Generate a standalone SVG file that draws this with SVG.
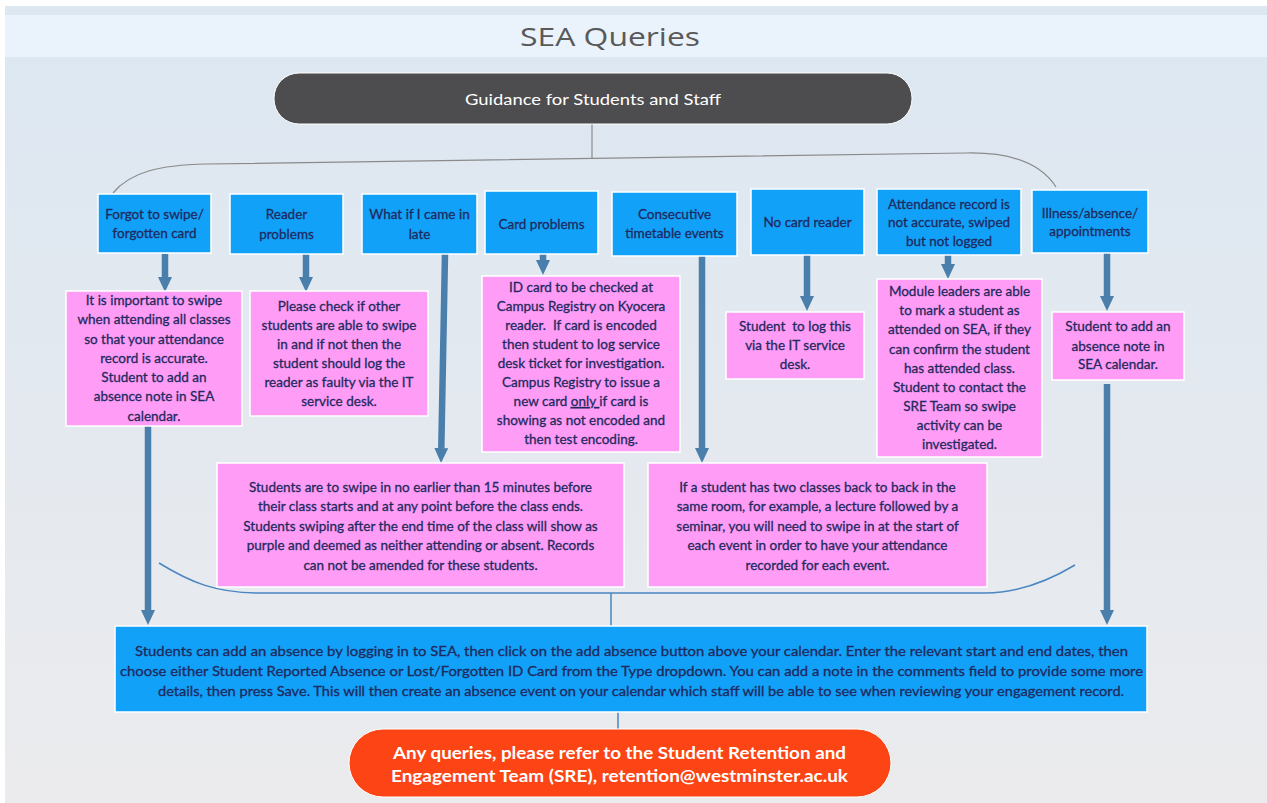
<svg xmlns="http://www.w3.org/2000/svg" width="1267" height="803" viewBox="0 0 1267 803">
<defs>
<linearGradient id="bg" x1="0" y1="0" x2="0" y2="1">
<stop offset="0" stop-color="#dce7f2"/>
<stop offset="1" stop-color="#ebebed"/>
</linearGradient>
<marker id="ah" markerUnits="userSpaceOnUse" markerWidth="16" markerHeight="14" refX="0" refY="7" orient="auto">
<path d="M0,0 L15,7 L0,14 z" fill="#4a7eab"/>
</marker>
<style>
.cat rect{fill:#11a1f9;stroke:#ffffff;stroke-width:1.5}
.pink rect{fill:#fe9cf6;stroke:#ffffff;stroke-width:1.5}
.t{font-family:Lato,"Liberation Sans",sans-serif;font-size:13.5px;fill:#1f2a5e;stroke:#1f2a5e;stroke-width:0.3px;text-anchor:middle}
.arr{stroke:#4a7eab;stroke-width:6.5;fill:none;marker-end:url(#ah)}
.thin{stroke:#4a86c0;stroke-width:1.5;fill:none}
</style>
</defs>
<rect x="0" y="0" width="1267" height="803" fill="#ffffff"/>
<rect x="5" y="6" width="1262" height="797" fill="url(#bg)"/>
<rect x="5" y="15" width="1262" height="42" fill="#eaf3fc"/>
<text x="610" y="46" font-family="'Open Sans',Lato,sans-serif" font-size="26" fill="#595959" text-anchor="middle" textLength="180" lengthAdjust="spacingAndGlyphs">SEA Queries</text>

<g id="connectors">
<path d="M592,124 L592,158" stroke="#8a8a8a" stroke-width="1.2" fill="none"/>
<path d="M113,193 C130,172 160,165 206,164 L966,153 C1010,152 1040,162 1056,187" stroke="#8a8a8a" stroke-width="1.2" fill="none"/>
<path class="arr" d="M165,254 L165,277"/>
<path class="arr" d="M306,254 L306,277"/>
<path class="arr" d="M445,254 L441.3,448"/>
<path class="arr" d="M543,254 L543,260"/>
<path class="arr" d="M702,256 L702,448"/>
<path class="arr" d="M807,255 L807,296"/>
<path class="arr" d="M948,255 L948,264"/>
<path class="arr" d="M1107,253 L1107,296"/>
<path class="arr" d="M148,426 L148,610"/>
<path class="arr" d="M1107,384 L1107,610"/>
<path class="thin" d="M159,563 C190,582 215,593 260,593 L985,593 C1020,593 1050,580 1075,565"/>
<path class="thin" d="M611,593 L611,626"/>
<path class="thin" d="M618,712 L618,729"/>
</g>

<g id="guidance">
<rect x="274" y="73" width="638" height="51" rx="25" fill="#4d4d4f" stroke="#ffffff" stroke-width="1"/>
<text x="593" y="104.5" font-family="Lato,'Liberation Sans',sans-serif" font-size="16" fill="#ffffff" text-anchor="middle" textLength="256" lengthAdjust="spacingAndGlyphs">Guidance for Students and Staff</text>
</g>

<g id="cat1" class="cat"><rect x="98" y="194" width="113" height="59"/>
<text class="t" x="154.5" y="218.5">Forgot to swipe/</text><text class="t" x="154.5" y="237.5">forgotten card</text></g>
<g id="cat2" class="cat"><rect x="230" y="194" width="113" height="60"/>
<text class="t" x="286.5" y="219">Reader</text><text class="t" x="286.5" y="239">problems</text></g>
<g id="cat3" class="cat"><rect x="362" y="194" width="115" height="60"/>
<text class="t" x="419.5" y="219">What if I came in</text><text class="t" x="419.5" y="239">late</text></g>
<g id="cat4" class="cat"><rect x="485" y="191" width="113" height="63"/>
<text class="t" x="541.5" y="228.5">Card problems</text></g>
<g id="cat5" class="cat"><rect x="612" y="192" width="125" height="64"/>
<text class="t" x="674.5" y="218.5">Consecutive</text><text class="t" x="674.5" y="237.5">timetable events</text></g>
<g id="cat6" class="cat"><rect x="751" y="189" width="113" height="66"/>
<text class="t" x="807.5" y="226.5">No card reader</text></g>
<g id="cat7" class="cat"><rect x="877" y="189" width="144" height="66"/>
<text class="t" x="949" y="208.5">Attendance record is</text><text class="t" x="949" y="227">not accurate, swiped</text><text class="t" x="949" y="246">but not logged</text></g>
<g id="cat8" class="cat"><rect x="1032" y="190" width="116" height="63"/>
<text class="t" x="1090" y="218">Illness/absence/</text><text class="t" x="1090" y="236">appointments</text></g>

<g id="pinkA" class="pink"><rect x="66" y="291" width="176" height="135"/>
<text class="t" x="154" y="305">It is important to swipe</text>
<text class="t" x="154" y="324.3">when attending all classes</text>
<text class="t" x="154" y="343.5">so that your attendance</text>
<text class="t" x="154" y="362.8">record is accurate.</text>
<text class="t" x="154" y="382">Student to add an</text>
<text class="t" x="154" y="401.3">absence note in SEA</text>
<text class="t" x="154" y="420.5">calendar.</text></g>

<g id="pinkB" class="pink"><rect x="250" y="291" width="178" height="125"/>
<text class="t" x="339" y="311">Please check if other</text>
<text class="t" x="339" y="330">students are able to swipe</text>
<text class="t" x="339" y="349">in and if not then the</text>
<text class="t" x="339" y="368">student should log the</text>
<text class="t" x="339" y="387">reader as faulty via the IT</text>
<text class="t" x="339" y="406">service desk.</text></g>

<g id="pinkC" class="pink"><rect x="482" y="276" width="198" height="176"/>
<text class="t" x="581" y="292">ID card to be checked at</text>
<text class="t" x="581" y="311">Campus Registry on Kyocera</text>
<text class="t" x="581" y="330">reader.&#160; If card is encoded</text>
<text class="t" x="581" y="349">then student to log service</text>
<text class="t" x="581" y="368">desk ticket for investigation.</text>
<text class="t" x="581" y="387">Campus Registry to issue a</text>
<text class="t" x="581" y="406">new card <tspan text-decoration="underline">only </tspan>if card is</text>
<text class="t" x="581" y="425">showing as not encoded and</text>
<text class="t" x="581" y="444">then test encoding.</text></g>

<g id="pinkD" class="pink"><rect x="726" y="312" width="138" height="67"/>
<text class="t" x="795" y="331">Student&#160; to log this</text>
<text class="t" x="795" y="350">via the IT service</text>
<text class="t" x="795" y="369">desk.</text></g>

<g id="pinkE" class="pink"><rect x="877" y="279" width="165" height="178"/>
<text class="t" x="959.5" y="296">Module leaders are able</text>
<text class="t" x="959.5" y="315.2">to mark a student as</text>
<text class="t" x="959.5" y="334.3">attended on SEA, if they</text>
<text class="t" x="959.5" y="353.5">can confirm the student</text>
<text class="t" x="959.5" y="372.6">has attended class.</text>
<text class="t" x="959.5" y="391.8">Student to contact the</text>
<text class="t" x="959.5" y="410.9">SRE Team so swipe</text>
<text class="t" x="959.5" y="430">activity can be</text>
<text class="t" x="959.5" y="449.2">investigated.</text></g>

<g id="pinkF" class="pink"><rect x="1052" y="312" width="132" height="68"/>
<text class="t" x="1118" y="331">Student to add an</text>
<text class="t" x="1118" y="350.5">absence note in</text>
<text class="t" x="1118" y="369">SEA calendar.</text></g>

<g id="pinkG" class="pink"><rect x="217" y="463" width="407" height="124"/>
<text class="t" x="420.5" y="492">Students are to swipe in no earlier than 15 minutes before</text>
<text class="t" x="420.5" y="511">their class starts and at any point before the class ends.</text>
<text class="t" x="420.5" y="530.5">Students swiping after the end time of the class will show as</text>
<text class="t" x="420.5" y="549.5">purple and deemed as neither attending or absent. Records</text>
<text class="t" x="420.5" y="569.5">can not be amended for these students.</text></g>

<g id="pinkH" class="pink"><rect x="648" y="463" width="339" height="124"/>
<text class="t" x="817.5" y="492">If a student has two classes back to back in the</text>
<text class="t" x="817.5" y="511">same room, for example, a lecture followed by a</text>
<text class="t" x="817.5" y="530.5">seminar, you will need to swipe in at the start of</text>
<text class="t" x="817.5" y="549.5">each event in order to have your attendance</text>
<text class="t" x="817.5" y="569.5">recorded for each event.</text></g>

<g id="absence" class="cat"><rect x="115" y="626" width="1032" height="86"/>
<text class="t" x="631.5" y="656" font-size="13" textLength="993" lengthAdjust="spacingAndGlyphs">Students can add an absence by logging in to SEA, then click on the add absence button above your calendar. Enter the relevant start and end dates, then</text>
<text class="t" x="631.5" y="676" font-size="13" textLength="1023" lengthAdjust="spacingAndGlyphs">choose either Student Reported Absence or Lost/Forgotten ID Card from the Type dropdown. You can add a note in the comments field to provide some more</text>
<text class="t" x="641" y="695.5" font-size="13" textLength="966" lengthAdjust="spacingAndGlyphs">details, then press Save. This will then create an absence event on your calendar which staff will be able to see when reviewing your engagement record.</text></g>

<g id="queries">
<rect x="349" y="729" width="542" height="68" rx="34" fill="#fc4414" stroke="#ffffff" stroke-width="1"/>
<text x="619.5" y="759" font-family="Lato,'Liberation Sans',sans-serif" font-size="17" font-weight="bold" fill="#ffffff" text-anchor="middle" textLength="453" lengthAdjust="spacingAndGlyphs">Any queries, please refer to the Student Retention and</text>
<text x="619.5" y="781.5" font-family="Lato,'Liberation Sans',sans-serif" font-size="17" font-weight="bold" fill="#ffffff" text-anchor="middle" textLength="457" lengthAdjust="spacingAndGlyphs">Engagement Team (SRE), retention@westminster.ac.uk</text>
</g>
</svg>
